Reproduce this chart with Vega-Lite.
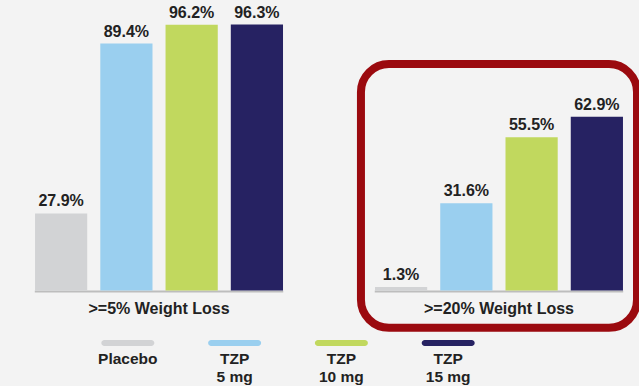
{
  "$schema": "https://vega.github.io/schema/vega-lite/v6.json",
  "background": "#f3f3f3",
  "padding": {"left": 21, "top": 4, "right": 0, "bottom": 0},
  "spacing": 8,
  "config": {"view": {"stroke": null}, "font": "Liberation Sans"},
  "datasets": {
    "bars": [
      {"group": ">=5% Weight Loss", "series": "Placebo", "value": 27.9, "label": "27.9%"},
      {"group": ">=5% Weight Loss", "series": "TZP 5 mg", "value": 89.4, "label": "89.4%"},
      {"group": ">=5% Weight Loss", "series": "TZP 10 mg", "value": 96.2, "label": "96.2%"},
      {"group": ">=5% Weight Loss", "series": "TZP 15 mg", "value": 96.3, "label": "96.3%"},
      {"group": ">=20% Weight Loss", "series": "Placebo", "value": 1.3, "label": "1.3%"},
      {"group": ">=20% Weight Loss", "series": "TZP 5 mg", "value": 31.6, "label": "31.6%"},
      {"group": ">=20% Weight Loss", "series": "TZP 10 mg", "value": 55.5, "label": "55.5%"},
      {"group": ">=20% Weight Loss", "series": "TZP 15 mg", "value": 62.9, "label": "62.9%"}
    ],
    "legend": [
      {"series": "Placebo", "label": "Placebo"},
      {"series": "TZP 5 mg", "label": "TZP\n5 mg"},
      {"series": "TZP 10 mg", "label": "TZP\n10 mg"},
      {"series": "TZP 15 mg", "label": "TZP\n15 mg"}
    ]
  },
  "vconcat": [
    {
      "width": 616,
      "height": 326,
      "data": {"name": "bars"},
      "encoding": {
        "x": {"field": "group", "type": "nominal", "sort": null, "scale": {"paddingInner": 0.188, "paddingOuter": 0}, "axis": null}
      },
      "layer": [
        {
          "transform": [{"filter": "datum.series === 'Placebo'"}],
          "mark": {"type": "bar", "color": "#bdbdbd", "width": {"band": 0.9}},
          "encoding": {
            "y": {"datum": 0, "type": "quantitative", "scale": {"domain": [-15, 103]}, "axis": null},
            "y2": {"datum": -0.7}
          }
        },
        {
          "mark": {"type": "bar"},
          "encoding": {
            "xOffset": {"field": "series", "type": "nominal", "sort": null, "scale": {"paddingInner": 0.2, "paddingOuter": 0.215}},
            "y": {"field": "value", "type": "quantitative", "scale": {"domain": [-15, 103]}, "axis": null},
            "color": {"field": "series", "type": "nominal", "sort": null, "scale": {"domain": ["Placebo", "TZP 5 mg", "TZP 10 mg", "TZP 15 mg"], "range": ["#d2d3d5", "#9acfef", "#c1d85e", "#262262"]}, "legend": null}
          }
        },
        {
          "mark": {"type": "text", "baseline": "alphabetic", "dy": -7, "fontSize": 16, "fontWeight": "bold", "color": "#222222"},
          "encoding": {
            "xOffset": {"field": "series", "type": "nominal", "sort": null, "scale": {"paddingInner": 0.2, "paddingOuter": 0.215}},
            "y": {"field": "value", "type": "quantitative", "scale": {"domain": [-15, 103]}, "axis": null},
            "text": {"field": "label", "type": "nominal"}
          }
        },
        {
          "transform": [{"filter": "datum.series === 'Placebo'"}],
          "mark": {"type": "text", "baseline": "middle", "fontSize": 16, "fontWeight": "bold", "color": "#222222"},
          "encoding": {
            "y": {"datum": -6.8, "type": "quantitative", "scale": {"domain": [-15, 103]}, "axis": null},
            "text": {"field": "group", "type": "nominal"}
          }
        },
        {
          "transform": [{"filter": "datum.series === 'Placebo' && datum.group === '>=20% Weight Loss'"}],
          "mark": {"type": "rect", "fillOpacity": 0, "stroke": "#9b0a0f", "strokeWidth": 8, "cornerRadius": 28},
          "encoding": {
            "y": {"datum": 82, "type": "quantitative", "scale": {"domain": [-15, 103]}, "axis": null},
            "y2": {"datum": -13.5}
          }
        }
      ]
    },
    {
      "width": 534,
      "height": 40,
      "data": {"name": "legend"},
      "encoding": {
        "x": {"field": "series", "type": "ordinal", "sort": null, "scale": {"type": "point", "padding": 1.281}, "axis": null}
      },
      "layer": [
        {
          "mark": {"type": "tick", "orient": "horizontal", "size": 53, "thickness": 6, "cornerRadius": 3, "opacity": 1},
          "encoding": {
            "y": {"datum": 0, "type": "quantitative", "scale": {"domain": [0, 1], "reverse": true}, "axis": null},
            "color": {"field": "series", "type": "nominal", "sort": null, "scale": {"domain": ["Placebo", "TZP 5 mg", "TZP 10 mg", "TZP 15 mg"], "range": ["#d2d3d5", "#9acfef", "#c1d85e", "#262262"]}, "legend": null}
          }
        },
        {
          "mark": {"type": "text", "baseline": "top", "dy": 9, "fontSize": 15.5, "fontWeight": "bold", "lineBreak": "\n", "lineHeight": 18, "color": "#222222"},
          "encoding": {
            "y": {"datum": 0, "type": "quantitative", "scale": {"domain": [0, 1], "reverse": true}, "axis": null},
            "text": {"field": "label", "type": "nominal"}
          }
        }
      ]
    }
  ]
}
